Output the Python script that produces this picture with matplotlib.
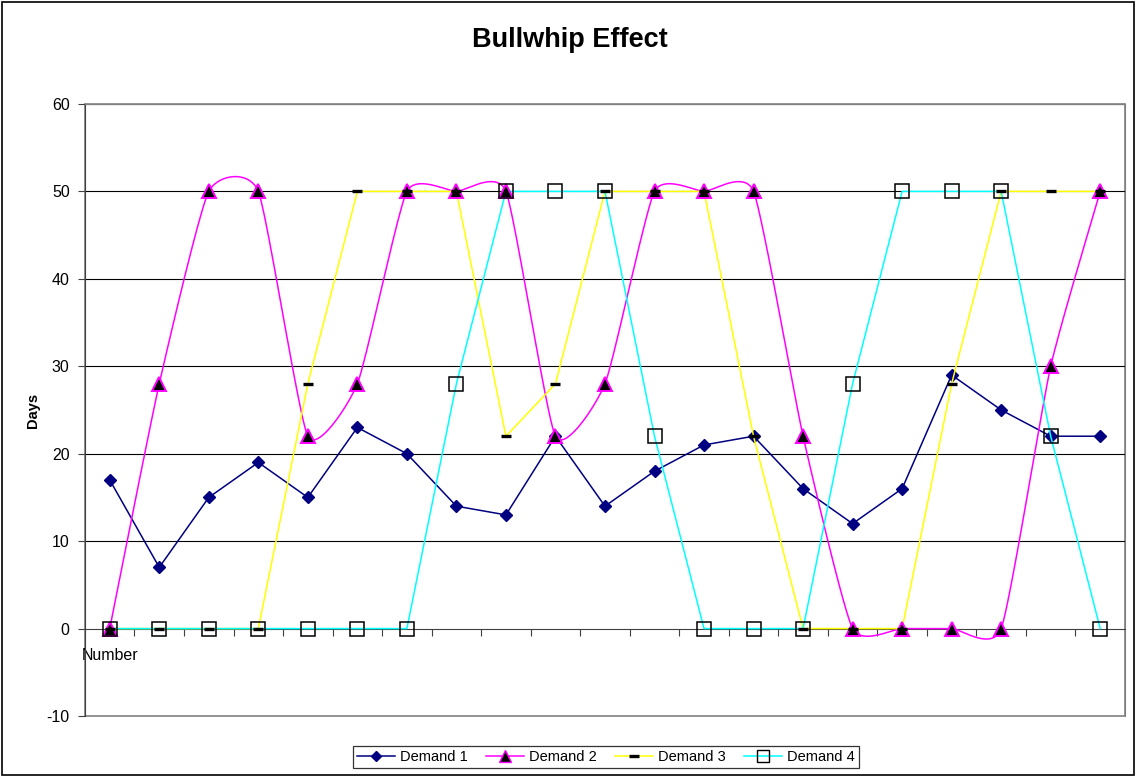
import numpy as np
import matplotlib
matplotlib.use("Agg")
import matplotlib.pyplot as plt
from matplotlib.lines import Line2D
from matplotlib.patches import Rectangle

plt.rcParams['font.family'] = ['Liberation Sans', 'DejaVu Sans']

# ─── Data ─────────────────────────────────────────────────────────────────────
demand1 = [17, 7, 15, 19, 15, 23, 20, 14, 13, 22, 14, 18, 21, 22, 16, 12, 16, 29, 25, 22, 22]
demand2 = [0, 28, 50, 50, 22, 28, 50, 50, 50, 22, 28, 50, 50, 50, 22, 0, 0, 0, 0, 30, 50]
demand3 = [0, 0, 0, 0, 28, 50, 50, 50, 22, 28, 50, 50, 50, 22, 0, 0, 0, 28, 50, 50, 50]
demand4 = [0, 0, 0, 0, 0, 0, 0, 28, 50, 50, 50, 22, 0, 0, 0, 28, 50, 50, 50, 22, 0]
cat_labels = ['Number'] + [''] * 20
series_names = ['Demand 1', 'Demand 2', 'Demand 3', 'Demand 4']
y_ticks = [-10, 0, 10, 20, 30, 40, 50, 60]


def excel_smooth(xs, ys, k=0.09, n=40):
    """Bezier smoothing similar to Excel's 'smoothed line' option."""
    xs = np.asarray(xs, float)
    ys = np.asarray(ys, float)
    m = len(xs)
    t = np.linspace(0, 1, n)
    out_x, out_y = [], []
    for i in range(m - 1):
        a = max(i - 1, 0)
        b = min(i + 2, m - 1)
        p0 = np.array([xs[i], ys[i]])
        p3 = np.array([xs[i + 1], ys[i + 1]])
        c1 = p0 + k * np.array([xs[i + 1] - xs[a], ys[i + 1] - ys[a]])
        c2 = p3 - k * np.array([xs[b] - xs[i], ys[b] - ys[i]])
        bx = ((1 - t) ** 3 * p0[0] + 3 * (1 - t) ** 2 * t * c1[0]
              + 3 * (1 - t) * t ** 2 * c2[0] + t ** 3 * p3[0])
        by = ((1 - t) ** 3 * p0[1] + 3 * (1 - t) ** 2 * t * c1[1]
              + 3 * (1 - t) * t ** 2 * c2[1] + t ** 3 * p3[1])
        out_x.append(bx if i == 0 else bx[1:])
        out_y.append(by if i == 0 else by[1:])
    return np.concatenate(out_x), np.concatenate(out_y)


x = np.arange(len(demand1))

fig = plt.figure(figsize=(11.39, 7.77), dpi=100)
ax = fig.add_axes([0.0746, 0.0785, 0.9131, 0.7877])

# gridlines
for yv in y_ticks[2:]:
    ax.axhline(yv, color='black', linewidth=0.8, zorder=1)

lw = 1.1
# Demand 1
ax.plot(x, demand1, color='#000080', linewidth=lw, marker='D', markersize=6,
        markerfacecolor='#000080', markeredgecolor='#000080', zorder=3)
# Demand 2 (smoothed)
sx, sy = excel_smooth(x, demand2)
ax.plot(sx, sy, color='#FF00FF', linewidth=lw, zorder=3)
ax.plot(x, demand2, linestyle='none', marker='^', markersize=10,
        markerfacecolor='black', markeredgecolor='#FF00FF', markeredgewidth=1.4, zorder=4)
# Demand 3
ax.plot(x, demand3, color='#FFFF00', linewidth=lw, zorder=3)
ax.plot(x, demand3, linestyle='none', marker='_', markersize=6.5,
        markeredgecolor='black', markeredgewidth=2.4, zorder=4)
# Demand 4
ax.plot(x, demand4, color='#00FFFF', linewidth=lw, zorder=3)
ax.plot(x, demand4, linestyle='none', marker='s', markersize=10,
        markerfacecolor='none', markeredgecolor='black', markeredgewidth=1.1, zorder=5)

ax.set_xlim(-0.5, len(x) - 0.5)
ax.set_ylim(-10, 60)
ax.set_yticks(y_ticks)
ax.set_yticklabels([str(v) for v in y_ticks], fontsize=11.5)
ax.tick_params(axis='y', direction='out', length=5, width=0.8, color='#404040', pad=6)

# category axis crossing at zero
ax.spines['bottom'].set_position(('data', 0))
ax.spines['bottom'].set_color('#404040')
ax.spines['left'].set_color('#404040')
for s in ['top', 'right']:
    ax.spines[s].set_color('#808080')
ax.set_xticks(np.arange(len(x) - 1) + 0.5)
ax.set_xticklabels([])
ax.set_xticks(x, minor=True)
ax.set_xticklabels(cat_labels, minor=True, fontsize=11.5)
ax.tick_params(axis='x', which='major', direction='out', length=5, width=0.8, color='#404040')
ax.tick_params(axis='x', which='minor', length=0, pad=14)

# frame of the plot area
ax.add_patch(Rectangle((0, 0), 1, 1, transform=ax.transAxes, fill=False,
                       edgecolor='#808080', linewidth=1.2, zorder=0, clip_on=False))

ax.set_ylabel('Days', fontsize=10.5, fontweight='bold', labelpad=5)
fig.text(0.5, 0.9485, 'Bullwhip Effect', ha='center', va='center',
         fontsize=19.5, fontweight='bold')

handles = [
    Line2D([], [], color='#000080', linewidth=lw, marker='D', markersize=5.5),
    Line2D([], [], color='#FF00FF', linewidth=lw, marker='^', markersize=8,
           markerfacecolor='black', markeredgecolor='#FF00FF'),
    Line2D([], [], color='#FFFF00', linewidth=lw, marker='_', markersize=6.5,
           markeredgecolor='black', markeredgewidth=2.4),
    Line2D([], [], color='#00FFFF', linewidth=lw, marker='s', markersize=8,
           markerfacecolor='none', markeredgecolor='black'),
]
leg = fig.legend(handles, series_names, loc='center', bbox_to_anchor=(0.532, 0.0257),
                 ncol=4, fontsize=10.5, frameon=True, fancybox=False, handlelength=2.6,
                 handletextpad=0.3, columnspacing=1.3, borderpad=0.3)
leg.get_frame().set_edgecolor('black')
leg.get_frame().set_linewidth(0.9)

# outer chart border
fig.add_artist(Rectangle((0.002, 0.003), 0.994, 0.994, transform=fig.transFigure,
                         fill=False, edgecolor='black', linewidth=1.2))

fig.savefig('out.png', dpi=100)
